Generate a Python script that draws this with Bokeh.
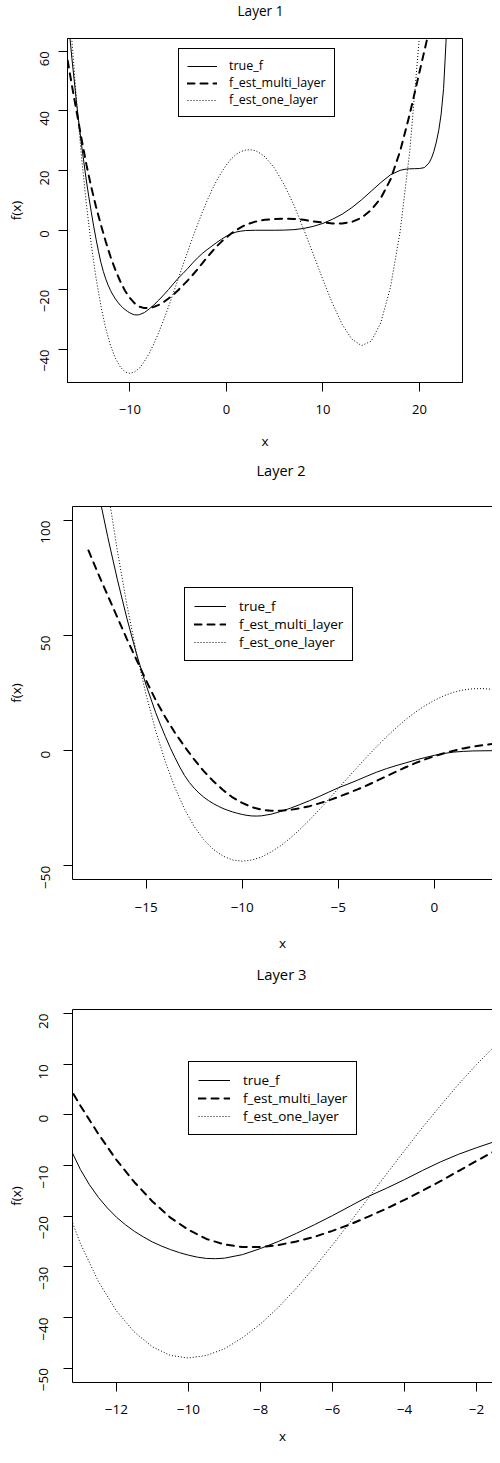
import math
from bokeh.plotting import figure
from bokeh.models import Range1d, FixedTicker, Legend, LegendItem, LinearAxis
from bokeh.embed import file_html
from bokeh.resources import INLINE

# ---------------- data ----------------
series_names = ["true_f", "f_est_multi_layer", "f_est_one_layer"]

true_f_x = [-18.0, -17.5, -17.0, -16.5, -16.0, -15.5, -15.0, -14.5, -14.25, -14.0,
            -13.75, -13.5, -13.25, -13.0, -12.75, -12.5, -12.25, -12.0, -11.75, -11.5,
            -11.25, -11.0, -10.75, -10.5, -10.25, -10.0, -9.75, -9.5, -9.25, -9.0,
            -8.5, -8.0, -7.5, -7.0, -6.5, -6.0, -5.5, -5.0, -4.5, -4.0,
            -3.5, -3.0, -2.5, -2.0, -1.5, -1.0, -0.5, 0.0, 0.5, 1.0,
            1.5, 2.0, 3.0, 4.0, 5.0, 6.0, 7.0, 8.0, 9.0, 10.0,
            11.0, 12.0, 13.0, 14.0, 15.0, 16.0, 17.0, 18.0, 18.5, 19.0,
            19.5, 20.0, 20.5, 21.0, 21.25, 21.5, 21.75, 22.0, 22.25, 22.5,
            22.75, 23.0]
true_f_y = [136.0, 113.0, 93.0, 74.5, 57.5, 42.0, 28.5, 16.5, 11.2, 6.2,
            1.4, -3.0, -7.1, -10.8, -13.8, -16.3, -18.4, -20.2, -21.7, -23.0,
            -24.1, -25.1, -25.9, -26.6, -27.2, -27.7, -28.1, -28.35, -28.4, -28.3,
            -27.6, -26.4, -25.0, -23.4, -21.7, -19.9, -18.0, -16.1, -14.5, -12.8,
            -11.0, -9.3, -7.8, -6.5, -5.3, -4.1, -3.0, -2.0, -1.2, -0.6,
            -0.3, -0.1, 0.0, 0.0, 0.0, 0.05, 0.2, 0.6, 1.3, 2.3,
            3.7, 5.4, 7.6, 10.2, 13.1, 16.0, 18.6, 20.1, 20.45, 20.6,
            20.65, 20.7, 21.0, 22.6, 24.2, 26.5, 29.6, 33.5, 39.0, 47.5,
            63.0, 82.0]

multi_x = [-18.0, -17.5, -17.0, -16.5, -16.0, -15.5, -15.0, -14.5, -14.0, -13.5,
           -13.0, -12.5, -12.0, -11.5, -11.0, -10.5, -10.0, -9.5, -9.0, -8.5,
           -8.0, -7.5, -7.0, -6.5, -6.0, -5.5, -5.0, -4.5, -4.0, -3.5,
           -3.0, -2.5, -2.0, -1.5, -1.0, -0.5, 0.0, 0.5, 1.0, 1.5,
           2.0, 3.0, 4.0, 5.0, 6.0, 7.0, 8.0, 9.0, 10.0, 11.0,
           12.0, 13.0, 14.0, 15.0, 16.0, 17.0, 18.0, 19.0, 20.0, 21.0]
multi_y = [87.0, 77.0, 67.5, 58.0, 48.5, 39.5, 30.5, 22.0, 14.5, 7.8,
           1.8, -3.8, -8.9, -13.3, -17.1, -20.3, -22.7, -24.5, -25.6, -26.1,
           -26.1, -25.7, -25.0, -24.1, -22.9, -21.6, -20.1, -18.5, -16.8, -15.0,
           -13.1, -11.1, -9.1, -7.2, -5.4, -3.8, -2.4, -1.1, 0.0, 1.0,
           1.8, 2.9, 3.5, 3.8, 3.9, 3.8, 3.5, 3.0, 2.6, 2.3,
           2.3, 2.8, 4.2, 6.8, 10.8, 17.0, 26.5, 39.0, 53.0, 67.0]

one_x = [-17.0, -16.5, -16.0, -15.5, -15.0, -14.5, -14.0, -13.5, -13.0, -12.5,
         -12.0, -11.5, -11.0, -10.5, -10.0, -9.5, -9.0, -8.5, -8.0, -7.5,
         -7.0, -6.5, -6.0, -5.5, -5.0, -4.5, -4.0, -3.5, -3.0, -2.5,
         -2.0, -1.5, -1.0, -0.5, 0.0, 0.5, 1.0, 1.5, 2.0, 2.5,
         3.0, 3.5, 4.0, 5.0, 6.0, 7.0, 8.0, 9.0, 10.0, 11.0,
         12.0, 13.0, 14.0, 15.0, 16.0, 17.0, 18.0, 19.0, 20.0, 20.5]
one_y = [113.7, 87.0, 63.4, 42.5, 24.3, 8.6, -4.8, -16.1, -25.4, -32.9,
         -38.7, -42.9, -45.8, -47.5, -48.0, -47.5, -46.2, -44.0, -41.3, -38.0,
         -34.2, -30.1, -25.7, -21.1, -16.4, -11.7, -7.1, -2.5, 1.8, 6.0,
         9.9, 13.5, 16.7, 19.5, 21.9, 23.9, 25.4, 26.4, 26.9, 27.0,
         26.7, 25.8, 24.6, 20.8, 15.2, 8.4, 0.4, -8.0, -16.6, -24.6,
         -31.6, -36.5, -38.7, -37.2, -31.0, -19.1, -0.4, 26.6, 65.0, 85.0]

panel_titles = ["Layer 1", "Layer 2", "Layer 3"]
x_label = "x"
y_label = "f(x)"
p1_xticks = [-10, 0, 10, 20]
p1_yticks = [-40, -20, 0, 20, 40, 60]
p2_xticks = [-15, -10, -5, 0]
p2_yticks = [-50, 0, 50, 100]
p3_xticks = [-12, -10, -8, -6, -4, -2]
p3_yticks = [-50, -40, -30, -20, -10, 0, 10, 20]

# ---------------- layout / style ----------------
FONT = "Open Sans"
W = 492


def tick_text(v):
    return str(v).replace("-", "\u2212")


def make_title(text, height, offset, size):
    t = figure(width=W, height=height, output_backend="svg", toolbar_location=None,
               x_axis_location=None, y_axis_location=None,
               min_border_left=0, min_border_right=0, min_border_top=0, min_border_bottom=0)
    t.grid.visible = False
    t.outline_line_color = None
    t.background_fill_color = "white"
    t.border_fill_color = "white"
    t.title.text = text
    t.title.text_font = FONT
    t.title.text_font_size = size
    t.title.text_font_style = "normal"
    t.title.text_color = "black"
    t.title.align = "left"
    t.title.offset = offset
    t.title.vertical_align = "top"
    t.title.standoff = 0
    return t


def make_panel(cfg):
    p = figure(width=W, height=cfg["height"],
               x_range=Range1d(*cfg["xr"]), y_range=Range1d(*cfg["yr"]),
               output_backend="svg", toolbar_location=None,
               min_border_left=cfg["mb"][0], min_border_right=cfg["mb"][1],
               min_border_top=cfg["mb"][2], min_border_bottom=cfg["mb"][3])
    p.grid.visible = False
    p.background_fill_color = "white"
    p.border_fill_color = "white"

    bx = p.below[0]
    ly = p.left[0]
    for ax, ticks in ((bx, cfg["xticks"]), (ly, cfg["yticks"])):
        ax.ticker = FixedTicker(ticks=ticks)
        ax.major_label_overrides = {t: tick_text(t) for t in ticks}
        ax.minor_tick_line_color = None
        ax.minor_tick_out = 0
        ax.major_tick_in = 0
        ax.major_tick_out = 9
        ax.axis_line_color = "black"
        ax.axis_line_width = 1
        ax.major_tick_line_color = "black"
        ax.major_label_text_font = FONT
        ax.major_label_text_font_size = cfg["tick_fs"]
        ax.major_label_text_color = "black"
        ax.axis_label_text_font = FONT
        ax.axis_label_text_font_size = cfg["lab_fs"]
        ax.axis_label_text_font_style = "normal"
        ax.axis_label_text_color = "black"
    bx.major_label_standoff = cfg["xstand"]
    ly.major_label_standoff = cfg["ystand"]
    ly.major_label_orientation = math.pi / 2
    bx.axis_label = x_label
    ly.axis_label = y_label
    bx.axis_label_standoff = cfg["xlab_stand"]
    ly.axis_label_standoff = cfg["ylab_stand"]

    if cfg["box"]:
        p.outline_line_color = "black"
        p.outline_line_alpha = 1.0
        p.outline_line_width = 1
    else:
        # frame runs off the right edge: draw only the top border
        p.outline_line_color = None
        top = LinearAxis(ticker=FixedTicker(ticks=[]), major_tick_out=0, major_tick_in=0,
                         minor_tick_out=0, minor_tick_in=0, major_label_standoff=0,
                         major_label_text_font_size="0px", axis_line_color="black")
        p.add_layout(top, "above")

    r1 = p.line(true_f_x, true_f_y, line_color="black", line_width=1)
    r2 = p.line(multi_x, multi_y, line_color="black", line_width=2,
                line_dash="7 6", line_cap="round")
    r3 = p.line(one_x, one_y, line_color="black", line_width=1, line_dash="1 2")

    leg = Legend(items=[LegendItem(label=series_names[0], renderers=[r1]),
                        LegendItem(label=series_names[1], renderers=[r2]),
                        LegendItem(label=series_names[2], renderers=[r3])],
                 location=cfg["leg_loc"], orientation="vertical",
                 border_line_color="black", border_line_width=1, border_line_alpha=1.0,
                 background_fill_color="white", background_fill_alpha=1.0,
                 label_text_font=FONT, label_text_font_size=cfg["leg_fs"],
                 label_text_color="black",
                 padding=cfg["leg_pad"], spacing=0, margin=0,
                 glyph_width=cfg["glyph_w"], glyph_height=cfg["row_h"],
                 label_height=cfg["row_h"], label_standoff=cfg["leg_stand"])
    p.add_layout(leg)
    return p


cfgs = [
    dict(height=432, xr=(-16.46, 24.46), yr=(-51.05, 64.3),
         mb=(67, 30, 10, 78), xticks=p1_xticks, yticks=p1_yticks, box=True,
         tick_fs="13px", xstand=13, ystand=14, lab_fs="13.5px",
         xlab_stand=15, ylab_stand=8,
         leg_loc=(111, 265), leg_fs="12.5px", leg_pad=8, glyph_w=30, leg_stand=12, row_h=16),
    dict(height=475, xr=(-18.83, 3.02), yr=(-55.96, 106.1),
         mb=(72, 0, 18, 84), xticks=p2_xticks, yticks=p2_yticks, box=False,
         tick_fs="13.5px", xstand=14, ystand=18, lab_fs="13.5px",
         xlab_stand=19, ylab_stand=9,
         leg_loc=(112, 218), leg_fs="13.5px", leg_pad=9, glyph_w=32, leg_stand=13, row_h=18),
    dict(height=456, xr=(-13.22, -1.553), yr=(-52.84, 20.79),
         mb=(72, 0, 18, 65), xticks=p3_xticks, yticks=p3_yticks, box=False,
         tick_fs="13.5px", xstand=13, ystand=20, lab_fs="13.5px",
         xlab_stand=10, ylab_stand=7,
         leg_loc=(116, 247), leg_fs="13.5px", leg_pad=9, glyph_w=32, leg_stand=13, row_h=18),
]

title_cfgs = [(panel_titles[0], 28, 237, "13.6px"),
              (panel_titles[1], 28, 256, "14.5px"),
              (panel_titles[2], 28, 256, "14.8px")]

roots = []
for (ttext, th, toff, tfs), cfg in zip(title_cfgs, cfgs):
    roots.append(make_title(ttext, th, toff, tfs))
    roots.append(make_panel(cfg))

with open("out.html", "w") as f:
    f.write(file_html(roots, INLINE))
